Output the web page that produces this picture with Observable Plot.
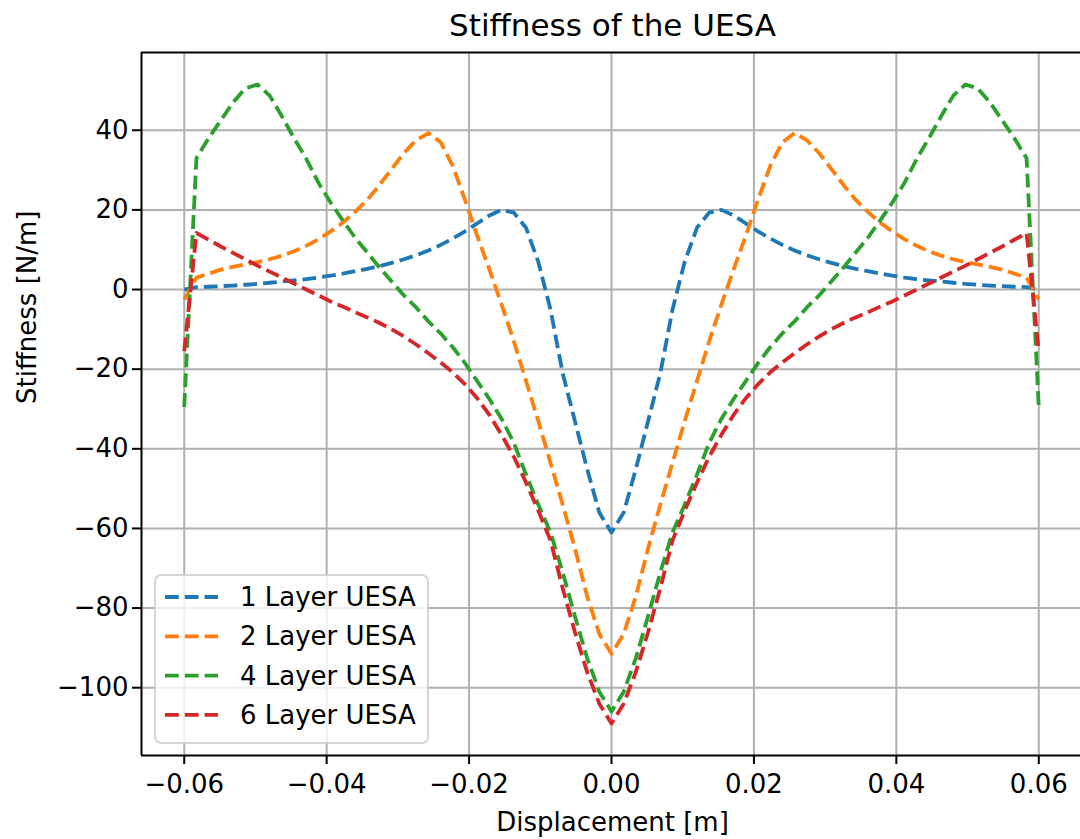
<!DOCTYPE html>
<html>
<head>
<meta charset="utf-8">
<script src="https://cdn.jsdelivr.net/npm/d3@7"></script>
<script src="https://cdn.jsdelivr.net/npm/@observablehq/plot@0.6"></script>
<style>
  html, body { margin: 0; padding: 0; background: #fff; }
  #chart svg { display: block; }
</style>
</head>
<body>
<div id="chart"></div>
<script>
// Displacement samples [m]
const displacement = [
  -0.06, -0.058286, -0.056571, -0.054857, -0.053143, -0.051429, -0.049714, -0.048,
  -0.046286, -0.044571, -0.042857, -0.041143, -0.039429, -0.037714, -0.036, -0.034286,
  -0.032571, -0.030857, -0.029143, -0.027429, -0.025714, -0.024, -0.022286, -0.020571,
  -0.018857, -0.017143, -0.015429, -0.013714, -0.012, -0.010286, -0.008571, -0.006857,
  -0.005143, -0.003429, -0.001714, 0,
  0.001714, 0.003429, 0.005143, 0.006857, 0.008571, 0.010286, 0.012, 0.013714,
  0.015429, 0.017143, 0.018857, 0.020571, 0.022286, 0.024, 0.025714, 0.027429,
  0.029143, 0.030857, 0.032571, 0.034286, 0.036, 0.037714, 0.039429, 0.041143,
  0.042857, 0.044571, 0.046286, 0.048, 0.049714, 0.051429, 0.053143, 0.054857,
  0.056571, 0.058286, 0.06
];

// Stiffness [N/m] for each UESA stack
const layer1 = [
  0, 0.6, 0.7, 0.85, 1.0, 1.2, 1.4, 1.7, 2.0, 2.3, 2.6, 3.0, 3.5, 4.0, 4.6, 5.2,
  5.9, 6.7, 7.6, 8.6, 9.8, 11.2, 12.8, 14.6, 16.6, 18.6, 20, 19.3, 15.5, 7, -5, -21,
  -33, -45, -56, -61,
  -56, -45, -33, -21, -5, 7, 15.5, 19.3, 20, 18.6, 16.6, 14.6, 12.8, 11.2, 9.8, 8.6,
  7.6, 6.7, 5.9, 5.2, 4.6, 4.0, 3.5, 3.0, 2.6, 2.3, 2.0, 1.7, 1.4, 1.2, 1.0, 0.85,
  0.7, 0.6, 0
];
const layer2 = [
  -2.5, 3, 4, 5, 5.7, 6.3, 6.9, 7.6, 8.5, 9.6, 11, 12.6, 14.6, 16.8, 19.5, 22.5,
  26.3, 30.3, 34.3, 37.5, 39.3, 37, 31, 22.5, 13.5, 5, -3.8, -13, -23, -33, -43.5, -54,
  -65, -77, -86.5, -91.5,
  -86.5, -77, -65, -54, -43.5, -33, -23, -13, -3.8, 5, 13.5, 22.5, 31, 37, 39.3, 37.5,
  34.3, 30.3, 26.3, 22.5, 19.5, 16.8, 14.6, 12.6, 11, 9.6, 8.5, 7.6, 6.9, 6.3, 5.7, 5,
  4, 3, -2.5
];
const layer4 = [
  -29.5, 33, 38, 42.5, 47, 50.5, 51.5, 48.7, 43.5, 38, 32.8, 26.8, 21.8, 17.3, 13, 9.3,
  5.5, 2, -1.5, -4.5, -8, -11, -14.5, -18.5, -23, -27.5, -32.5, -38.5, -46.5, -54, -61, -71,
  -82, -92.5, -101, -106,
  -101, -92.5, -82, -71, -61, -54, -46.5, -38.5, -32.5, -27.5, -23, -18.5, -14.5, -11, -8, -4.5,
  -1.5, 2, 5.5, 9.3, 13, 17.3, 21.8, 26.8, 32.8, 38, 43.5, 48.7, 51.5, 50.5, 47, 42.5,
  38, 33, -29.5
];
const layer6 = [
  -15.5, 14.2, 12.5, 10.8, 9.2, 7.6, 6, 4.5, 3, 1.5, 0, -1.5, -3, -4.3, -5.7, -7,
  -8.4, -10, -11.8, -13.8, -16, -18.3, -20.8, -23.8, -27.3, -31.5, -36.5, -42, -48.5, -55.5, -63, -75,
  -86, -96, -104, -109,
  -104, -96, -86, -75, -63, -55.5, -48.5, -42, -36.5, -31.5, -27.3, -23.8, -20.8, -18.3, -16, -13.8,
  -11.8, -10, -8.4, -7, -5.7, -4.3, -3, -1.5, 0, 1.5, 3, 4.5, 6, 7.6, 9.2, 10.8,
  12.5, 14.2, -15.5
];

const seriesNames = ["1 Layer UESA", "2 Layer UESA", "4 Layer UESA", "6 Layer UESA"];
const seriesValues = [layer1, layer2, layer4, layer6];
const seriesColors = ["#1f77b4", "#ff7f0e", "#2ca02c", "#d62728"];

const xTicks = [-0.06, -0.04, -0.02, 0, 0.02, 0.04, 0.06];
const yTicks = [-100, -80, -60, -40, -20, 0, 20, 40];

const titleText = "Stiffness of the UESA";
const xLabel = "Displacement [m]";
const yLabel = "Stiffness [N/m]";

// Long-format table for the line marks
const rows = seriesNames.flatMap((name, s) =>
  displacement.map((x, i) => ({series: name, x, y: seriesValues[s][i]}))
);

const allY = rows.map(d => d.y);
const yMin = d3.min(allY), yMax = d3.max(allY);
const yPad = (yMax - yMin) * 0.05;
const xPad = (0.06 - -0.06) * 0.05;

const font = "DejaVu Sans";
const dash = "13.8,6";

const plot = Plot.plot({
  width: 1080,
  height: 839,
  marginLeft: 141,
  marginRight: 0,
  marginTop: 52,
  marginBottom: 84,
  x: {domain: [-0.06 - xPad, 0.06 + xPad], range: [141, 1081]},
  y: {domain: [yMin - yPad, yMax + yPad]},
  style: {fontFamily: font, fontSize: "26px", background: "white", color: "black", overflow: "hidden"},
  marks: [
    Plot.gridX(xTicks, {stroke: "#b0b0b0", strokeOpacity: 1, strokeWidth: 2}),
    Plot.gridY(yTicks, {stroke: "#b0b0b0", strokeOpacity: 1, strokeWidth: 2}),
    ...seriesNames.map((name, s) =>
      Plot.line(rows.filter(d => d.series === name), {
        x: "x", y: "y",
        stroke: seriesColors[s],
        strokeWidth: 3.8,
        strokeDasharray: dash,
        strokeLinejoin: "round",
        strokeLinecap: "butt"
      })
    ),
    Plot.ruleX([-0.06 - xPad], {stroke: "black", strokeWidth: 2}),
    Plot.ruleY([yMin - yPad, yMax + yPad], {stroke: "black", strokeWidth: 2}),
    Plot.axisX(xTicks, {
      tickSize: 9, tickPadding: 10, tickFormat: d3.format(".2f"),
      strokeWidth: 2, label: null, fontSize: 26
    }),
    Plot.axisY(yTicks, {
      tickSize: 9, tickPadding: 4, tickFormat: d3.format("d"),
      strokeWidth: 2, label: null, fontSize: 26
    }),
    Plot.text([titleText], {text: d => d, frameAnchor: "top", dx: 1.5, dy: -26, fontSize: 31, lineAnchor: "middle"}),
    Plot.text([xLabel], {text: d => d, frameAnchor: "bottom", dx: 1.5, dy: 67, fontSize: 26, lineAnchor: "middle"}),
    Plot.text([yLabel], {text: d => d, frameAnchor: "left", dx: -114, rotate: -90, fontSize: 26, lineAnchor: "middle"})
  ]
});

// Legend box in the lower-left corner of the axes
const svg = d3.select(plot);
const lg = svg.append("g")
  .attr("font-family", font).attr("font-size", 26).attr("text-anchor", "start");
const lgX = 155, lgY = 575, lgW = 273, lgH = 168, rowGap = 39.3, firstRow = 597;
lg.append("rect")
  .attr("x", lgX).attr("y", lgY).attr("width", lgW).attr("height", lgH)
  .attr("rx", 6).attr("fill", "white").attr("fill-opacity", 0.8)
  .attr("stroke", "#cccccc").attr("stroke-opacity", 0.8).attr("stroke-width", 2);
seriesNames.forEach((name, s) => {
  const cy = firstRow + s * rowGap;
  lg.append("line")
    .attr("x1", 165).attr("x2", 218).attr("y1", cy).attr("y2", cy)
    .attr("stroke", seriesColors[s]).attr("stroke-width", 3.8)
    .attr("stroke-dasharray", dash);
  lg.append("text")
    .attr("x", 240).attr("y", cy).attr("dy", "0.35em")
    .attr("text-anchor", "start")
    .attr("fill", "black").text(name);
});

document.getElementById("chart").appendChild(plot);
</script>
</body>
</html>
